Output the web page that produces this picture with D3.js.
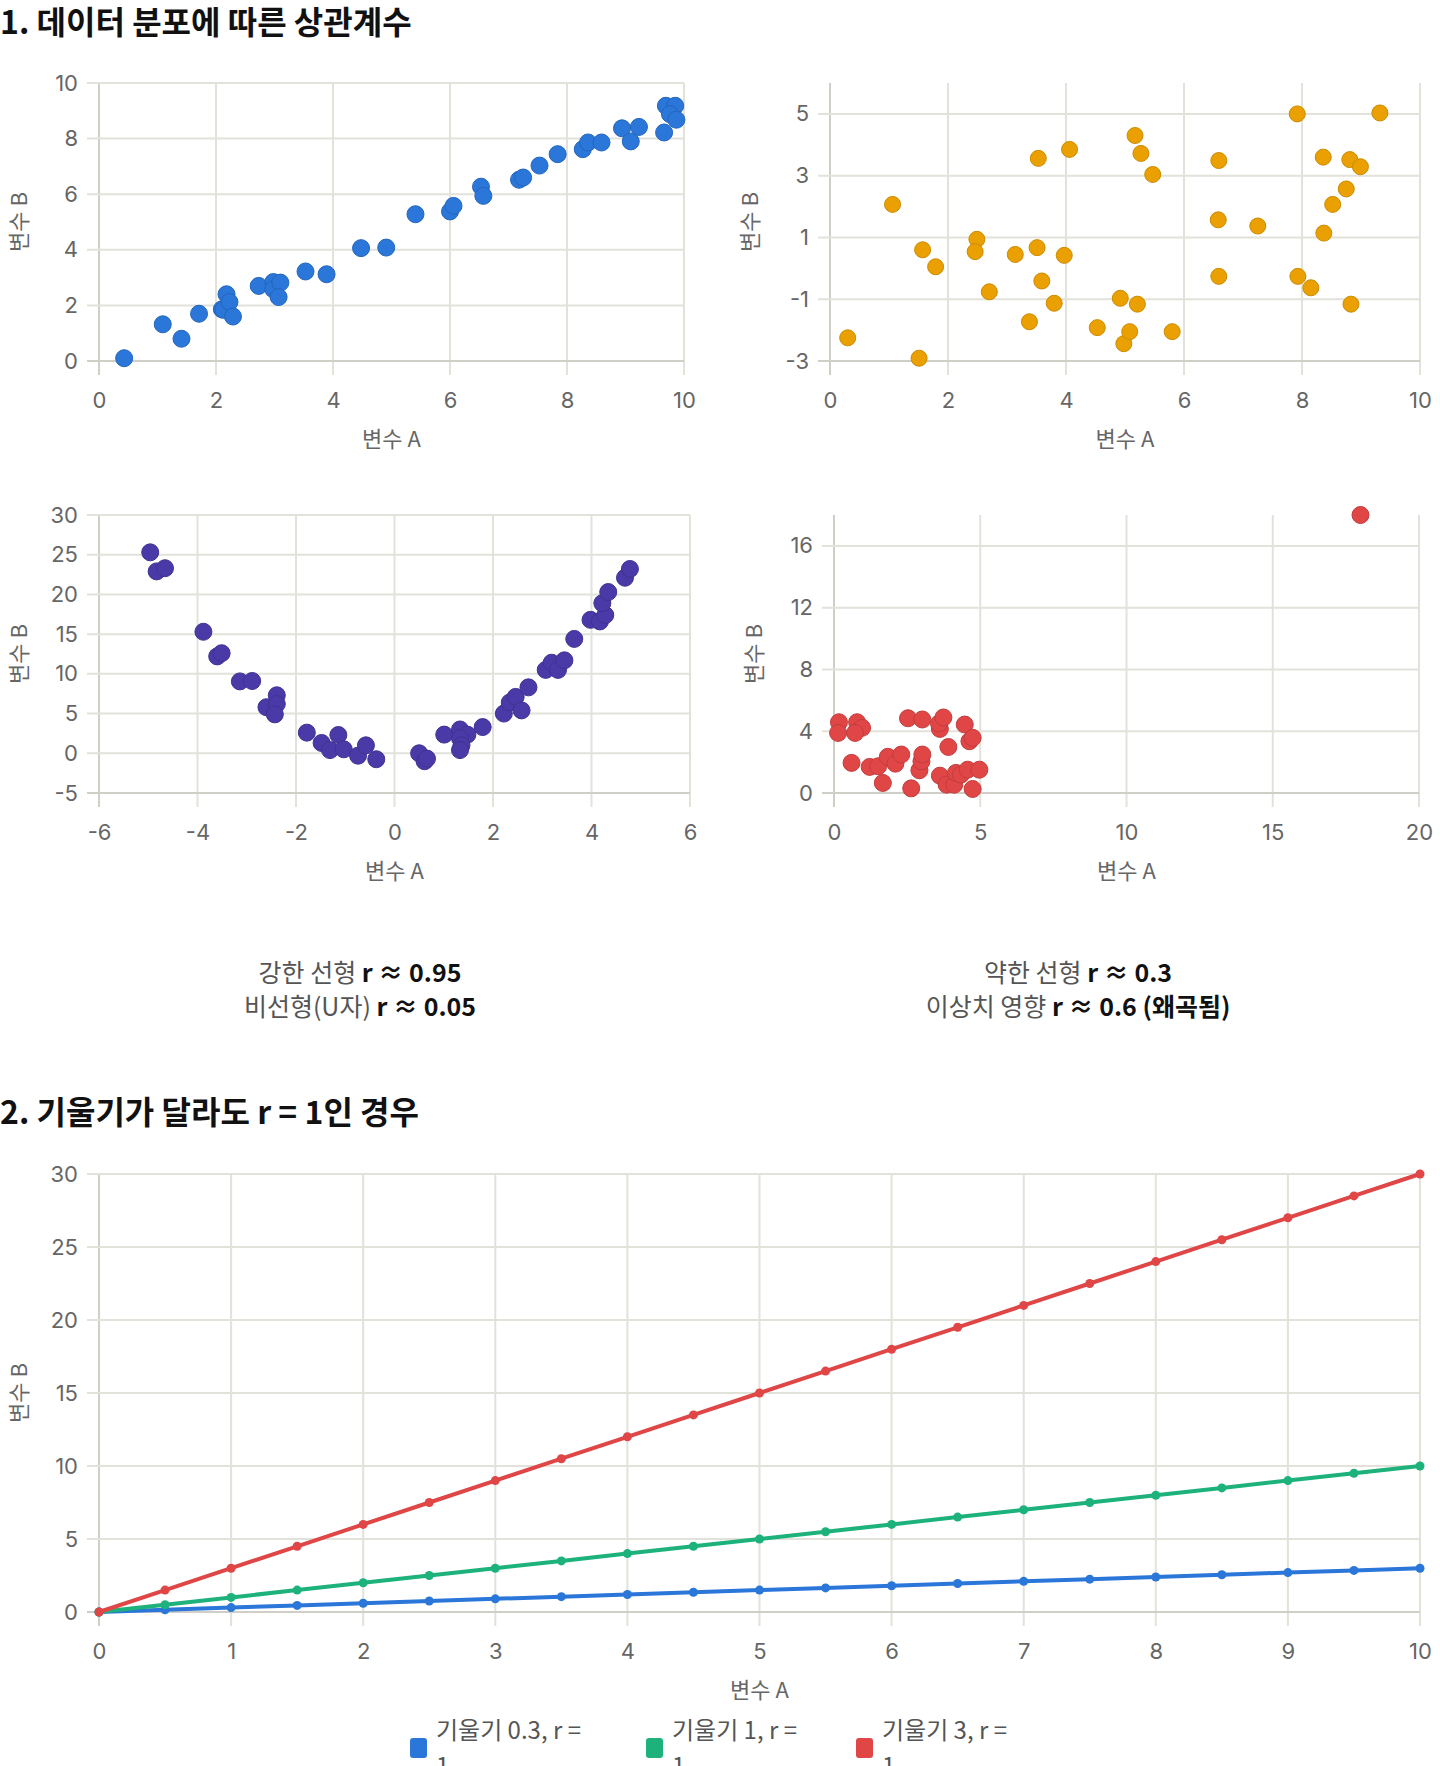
<!DOCTYPE html>
<html>
<head>
<meta charset="utf-8">
<script src="https://cdn.jsdelivr.net/npm/d3@7"></script>
<style>
body { margin: 0; background: #fff; font-family: "Noto Sans CJK KR", "Noto Sans", sans-serif; }
</style>
</head>
<body>
<svg id="chart" width="1440" height="1766"></svg>
<script>
// --- data ---
var linearX = [0.43,1.09,1.41,1.71,2.10,2.13,2.18,2.23,2.29,2.73,2.98,2.98,3.10,3.07,3.53,3.89,4.48,4.91,5.41,6.00,6.06,6.53,6.57,7.18,7.25,7.53,7.84,8.27,8.36,8.59,8.94,9.09,9.23,9.66,9.69,9.85,9.76,9.87];
var linearY = [0.10,1.32,0.80,1.70,1.86,1.84,2.40,2.12,1.60,2.70,2.84,2.58,2.82,2.30,3.22,3.12,4.06,4.08,5.28,5.38,5.58,6.27,5.94,6.52,6.60,7.03,7.44,7.62,7.86,7.86,8.37,7.90,8.42,8.22,9.18,9.18,8.88,8.68];

var weakX = [0.30,1.06,1.51,1.57,1.79,2.49,2.46,2.70,3.14,3.38,3.51,3.53,3.59,3.80,3.97,4.06,4.53,4.92,4.98,5.08,5.17,5.21,5.27,5.47,5.80,6.59,6.58,6.59,7.25,7.92,7.93,8.15,8.36,8.37,8.52,8.75,8.81,8.83,8.99,9.32];
var weakY = [-2.25,2.07,-2.91,0.60,0.05,0.94,0.54,-0.76,0.45,-1.73,0.67,3.56,-0.41,-1.13,0.42,3.85,-1.92,-0.97,-2.44,-2.05,4.30,-1.16,3.72,3.04,-2.05,3.49,1.57,-0.26,1.37,5.00,-0.26,-0.63,3.60,1.14,2.07,2.57,3.52,-1.16,3.29,5.03];

var uX = [-4.96,-4.83,-4.66,-3.88,-3.60,-3.51,-3.14,-2.89,-2.60,-2.39,-2.39,-2.43,-1.78,-1.48,-1.31,-1.14,-1.03,-0.74,-0.58,-0.37,0.50,0.61,0.66,1.01,1.33,1.48,1.33,1.36,1.33,1.79,2.22,2.34,2.46,2.58,2.72,3.07,3.19,3.32,3.45,3.65,3.98,4.17,4.28,4.22,4.34,4.68,4.78];
var uY = [25.3,22.9,23.3,15.3,12.2,12.6,9.05,9.1,5.8,7.3,6.2,4.9,2.6,1.3,0.4,2.3,0.5,-0.3,1.0,-0.75,0.0,-1.0,-0.67,2.35,3.0,2.35,1.9,1.0,0.4,3.3,5.0,6.4,7.1,5.4,8.3,10.5,11.4,10.5,11.7,14.4,16.8,16.6,17.4,18.9,20.3,22.1,23.2];

var outX = [0.17,0.14,0.79,0.96,0.72,0.60,1.22,1.51,1.67,1.84,2.10,2.30,2.53,2.64,2.92,2.99,3.02,3.02,3.62,3.59,3.74,3.62,3.91,3.85,4.11,4.17,4.34,4.47,4.57,4.63,4.74,4.74,4.97,18.0];
var outY = [4.58,3.89,4.58,4.22,3.89,1.95,1.69,1.73,0.65,2.34,1.90,2.49,4.84,0.30,1.47,2.05,2.49,4.76,4.15,4.50,4.89,1.12,2.98,0.54,0.54,1.30,1.19,4.43,1.51,3.35,3.57,0.26,1.51,18.0];

var lineX = [0,0.5,1,1.5,2,2.5,3,3.5,4,4.5,5,5.5,6,6.5,7,7.5,8,8.5,9,9.5,10];
var slope03 = [0,0.15,0.3,0.45,0.6,0.75,0.9,1.05,1.2,1.35,1.5,1.65,1.8,1.95,2.1,2.25,2.4,2.55,2.7,2.85,3];
var slope1 = [0,0.5,1,1.5,2,2.5,3,3.5,4,4.5,5,5.5,6,6.5,7,7.5,8,8.5,9,9.5,10];
var slope3 = [0,1.5,3,4.5,6,7.5,9,10.5,12,13.5,15,16.5,18,19.5,21,22.5,24,25.5,27,28.5,30];
var seriesNames = ["기울기 0.3, r =", "기울기 1, r =", "기울기 3, r ="];

var svg = d3.select("#chart");
var gridColor = "#e2e2da";
var axisColor = "#cfcfc8";
var tickColor = "#666";
var tickFont = "Inter, Roboto, sans-serif";

function panel(o) {
	var x = d3.scaleLinear().domain(o.xd).range([o.x0, o.x1]);
	var y = d3.scaleLinear().domain(o.yd).range([o.y1, o.y0]);
	var g = svg.append("g");
	var xt = o.xticks, yt = o.yticks;

	g.selectAll(".vg").data(xt).enter().append("line")
		.attr("x1", d => x(d)).attr("x2", d => x(d))
		.attr("y1", o.y0).attr("y2", o.y1 + 14)
		.attr("stroke", (d, i) => i === 0 ? axisColor : gridColor).attr("stroke-width", 2);
	g.selectAll(".hg").data(yt).enter().append("line")
		.attr("x1", o.x0 - 12).attr("x2", o.x1)
		.attr("y1", d => y(d)).attr("y2", d => y(d))
		.attr("stroke", d => d === o.yd[0] ? axisColor : gridColor).attr("stroke-width", 2);

	g.append("g").attr("transform", `translate(0,${o.y1 + 28})`)
		.call(d3.axisBottom(x).tickValues(xt).tickSize(0).tickFormat(d => String(d)))
		.call(a => a.select(".domain").remove())
		.selectAll("text").attr("font-size", 22).attr("fill", tickColor)
		.attr("font-family", tickFont);
	g.append("g").attr("transform", `translate(${o.x0 - 18},0)`)
		.call(d3.axisLeft(y).tickValues(yt).tickSize(0).tickFormat(d => String(d)))
		.call(a => a.select(".domain").remove())
		.selectAll("text").attr("font-size", 22).attr("fill", tickColor)
		.attr("font-family", tickFont);

	g.append("text").attr("x", (o.x0 + o.x1) / 2).attr("y", o.y1 + 86)
		.attr("text-anchor", "middle").attr("font-size", 22).attr("fill", tickColor).text("변수 A");
	g.append("text").attr("transform", `translate(${o.x0 - 72},${(o.y0 + o.y1) / 2}) rotate(-90)`)
		.attr("text-anchor", "middle").attr("font-size", 22).attr("fill", tickColor).text("변수 B");
	return { g: g, x: x, y: y };
}

function dots(p, xs, ys, color, r) {
	p.g.selectAll(".dot").data(xs).enter().append("circle")
		.attr("cx", d => p.x(d)).attr("cy", (d, i) => p.y(ys[i]))
		.attr("r", r).attr("fill", color)
		.attr("stroke", d3.color(color).darker(0.4)).attr("stroke-width", 1);
}

// titles
svg.append("text").attr("x", 0).attr("y", 34).attr("font-size", 32).attr("font-weight", "bold")
	.attr("fill", "#111").text("1. 데이터 분포에 따른 상관계수");
svg.append("text").attr("x", 0).attr("y", 1124).attr("font-size", 32).attr("font-weight", "bold")
	.attr("fill", "#111").text("2. 기울기가 달라도 r = 1인 경우");

var p1 = panel({ x0: 99, x1: 684, y0: 83, y1: 361, xd: [0, 10], yd: [0, 10],
	xticks: [0, 2, 4, 6, 8, 10], yticks: [0, 2, 4, 6, 8, 10] });
dots(p1, linearX, linearY, "#2a76d9", 8.5);

var p2 = panel({ x0: 830, x1: 1420, y0: 83, y1: 361, xd: [0, 10], yd: [-3, 6],
	xticks: [0, 2, 4, 6, 8, 10], yticks: [-3, -1, 1, 3, 5] });
dots(p2, weakX, weakY, "#eaa000", 8);

var p3 = panel({ x0: 99, x1: 690, y0: 515, y1: 793, xd: [-6, 6], yd: [-5, 30],
	xticks: [-6, -4, -2, 0, 2, 4, 6], yticks: [-5, 0, 5, 10, 15, 20, 25, 30] });
dots(p3, uX, uY, "#4a3aa8", 8.5);

var p4 = panel({ x0: 834, x1: 1419, y0: 515, y1: 793, xd: [0, 20], yd: [0, 18],
	xticks: [0, 5, 10, 15, 20], yticks: [0, 4, 8, 12, 16] });
dots(p4, outX, outY, "#e04646", 8.5);

// annotations
function note(cx, y, plain, bold) {
	var t = svg.append("text").attr("x", cx).attr("y", y).attr("text-anchor", "middle").attr("font-size", 25);
	t.append("tspan").attr("fill", "#555").text(plain);
	t.append("tspan").attr("fill", "#111").attr("font-weight", "bold").text(bold);
}
note(360, 982, "강한 선형 ", "r ≈ 0.95");
note(360, 1016, "비선형(U자) ", "r ≈ 0.05");
note(1078, 982, "약한 선형 ", "r ≈ 0.3");
note(1078, 1016, "이상치 영향 ", "r ≈ 0.6 (왜곡됨)");

// slope chart
var p5 = panel({ x0: 99, x1: 1420, y0: 1174, y1: 1612, xd: [0, 10], yd: [0, 30],
	xticks: d3.range(0, 11), yticks: [0, 5, 10, 15, 20, 25, 30] });
var lineColors = ["#2a76d9", "#1db27c", "#e04646"];
[slope03, slope1, slope3].forEach(function(ys, k) {
	var line = d3.line().x(d => p5.x(d)).y((d, i) => p5.y(ys[i]));
	p5.g.append("path").datum(lineX).attr("d", line).attr("fill", "none")
		.attr("stroke", lineColors[k]).attr("stroke-width", 4);
	p5.g.selectAll(".pt" + k).data(lineX).enter().append("circle")
		.attr("cx", d => p5.x(d)).attr("cy", (d, i) => p5.y(ys[i]))
		.attr("r", 4.5).attr("fill", lineColors[k]);
});

// legend (labels wrap, second line cut at page bottom)
var legX = [410, 646, 856];
seriesNames.forEach(function(name, k) {
	svg.append("rect").attr("x", legX[k]).attr("y", 1738).attr("width", 17).attr("height", 20)
		.attr("rx", 3).attr("fill", lineColors[k]);
	svg.append("text").attr("x", legX[k] + 26).attr("y", 1739).attr("font-size", 24)
		.attr("fill", "#555").text(name);
	svg.append("text").attr("x", legX[k] + 26).attr("y", 1774).attr("font-size", 24)
		.attr("fill", "#555").text("1");
});
</script>
</body>
</html>
